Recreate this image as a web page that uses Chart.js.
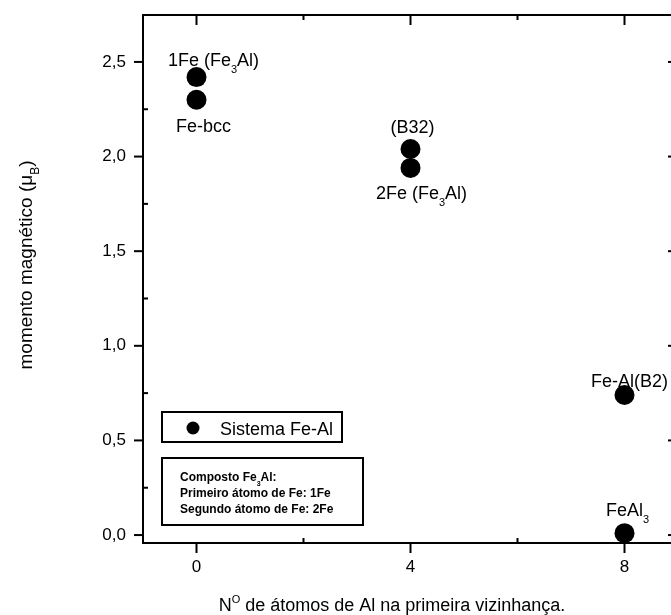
<!DOCTYPE html>
<html>
<head>
<meta charset="utf-8">
<script src="https://cdn.jsdelivr.net/npm/chart.js@4.4.1/dist/chart.umd.min.js"></script>
<style>
  html, body { margin: 0; padding: 0; background: #fff; overflow: hidden; }
  #wrap { width: 671px; height: 615px; overflow: hidden; }
</style>
</head>
<body>
<div id="wrap"><canvas id="chart" width="700" height="615"></canvas></div>
<script>
// ---------- DATA ----------
const xTicks = [0, 4, 8];
const xMinorTicks = [2, 6];
const yTicks = [0, 0.5, 1.0, 1.5, 2.0, 2.5];
const yMinorTicks = [0.25, 0.75, 1.25, 1.75, 2.25];

// number of Al first neighbours / magnetic moment (uB)
const alNeighbours = [0, 0, 4, 4, 8, 8];
const magMoment = [2.42, 2.30, 2.04, 1.94, 0.74, 0.01];
// '_' marks a subscript char, '^' a superscript char
const pointNames = ['1Fe (Fe_3Al)', 'Fe-bcc', '(B32)', '2Fe (Fe_3Al)', 'Fe-Al(B2)', 'FeAl_3'];

const seriesName = 'Sistema Fe-Al';
const noteLines = ['Composto Fe_3Al:', 'Primeiro átomo de Fe: 1Fe', 'Segundo átomo de Fe: 2Fe'];
const xTitle = 'N^O de átomos de Al na primeira vizinhança.';
const yTitle = 'momento magnético (μ_B)';

// ---------- STYLE ----------
const FONT = '"Liberation Sans", Arial, sans-serif';
// label offset from its point: [dx, baseline dy]
const labelPlacement = [[17, -11], [7, 32], [2, -16], [11, 31], [5, -8], [3, -17]];

// ---------- RICH TEXT ----------
function parseRich(str) {
  const parts = [];
  for (let i = 0; i < str.length; i++) {
    const c = str[i];
    if ((c === '_' || c === '^') && i + 1 < str.length) {
      parts.push({ t: str[i + 1], k: c === '_' ? 'sub' : 'sup' });
      i++;
    } else {
      const last = parts[parts.length - 1];
      if (last && last.k === 'n') last.t += c;
      else parts.push({ t: c, k: 'n' });
    }
  }
  return parts;
}

function partFont(p, size, weight) {
  const s = p.k === 'n' ? size : Math.round(size * 0.62);
  return weight + ' ' + s + 'px ' + FONT;
}

function richWidth(ctx, str, size, weight) {
  let w = 0;
  parseRich(str).forEach(p => {
    ctx.font = partFont(p, size, weight);
    w += ctx.measureText(p.t).width;
  });
  return w;
}

function drawRich(ctx, str, x, y, size, align, weight) {
  weight = weight || 'normal';
  const w = richWidth(ctx, str, size, weight);
  let cx = align === 'center' ? x - w / 2 : (align === 'right' ? x - w : x);
  ctx.textAlign = 'left';
  ctx.textBaseline = 'alphabetic';
  parseRich(str).forEach(p => {
    ctx.font = partFont(p, size, weight);
    let dy = 0;
    if (p.k === 'sub') dy = size * 0.38;
    if (p.k === 'sup') dy = -size * 0.42;
    ctx.fillText(p.t, cx, y + dy);
    cx += ctx.measureText(p.t).width;
  });
}

// ---------- DECORATION PLUGIN ----------
const framePlugin = {
  id: 'frame',
  beforeDraw(chart) {
    const ctx = chart.ctx;
    ctx.save();
    ctx.fillStyle = '#fff';
    ctx.fillRect(0, 0, chart.width, chart.height);
    ctx.restore();
  },
  beforeDatasetsDraw(chart) {
    const { ctx, chartArea: a, scales: { x, y } } = chart;
    ctx.save();
    ctx.strokeStyle = '#000';
    ctx.lineWidth = 2;
    ctx.strokeRect(a.left, a.top, a.right - a.left, a.bottom - a.top);

    const line = (x1, y1, x2, y2) => {
      ctx.beginPath(); ctx.moveTo(x1, y1); ctx.lineTo(x2, y2); ctx.stroke();
    };
    xTicks.forEach(v => {
      const px = x.getPixelForValue(v);
      line(px, a.bottom, px, a.bottom + 10);
      line(px, a.top, px, a.top + 10);
    });
    xMinorTicks.forEach(v => {
      const px = x.getPixelForValue(v);
      line(px, a.bottom, px, a.bottom - 5);
      line(px, a.top, px, a.top + 5);
    });
    yTicks.forEach(v => {
      const py = y.getPixelForValue(v);
      line(a.left - 9, py, a.left, py);
      line(a.right, py, a.right - 10, py);
    });
    yMinorTicks.forEach(v => {
      const py = y.getPixelForValue(v);
      line(a.left, py, a.left + 5, py);
    });
    ctx.restore();
  },
  afterDraw(chart) {
    const { ctx, scales: { x, y } } = chart;
    ctx.save();
    ctx.fillStyle = '#000';
    ctx.strokeStyle = '#000';

    // point labels
    pointNames.forEach((name, i) => {
      const px = x.getPixelForValue(alNeighbours[i]) + labelPlacement[i][0];
      const py = y.getPixelForValue(magMoment[i]) + labelPlacement[i][1];
      drawRich(ctx, name, px, py, 18, 'center');
    });

    // series key
    ctx.lineWidth = 2;
    ctx.strokeRect(162, 412, 180, 30);
    ctx.beginPath();
    ctx.arc(193, 428, 6.5, 0, Math.PI * 2);
    ctx.fill();
    drawRich(ctx, seriesName, 220, 435, 18, 'left');

    // note box
    ctx.strokeRect(162, 458, 201, 67);
    noteLines.forEach((t, i) => drawRich(ctx, t, 180, 481 + i * 16, 12, 'left', 'bold'));

    // axis titles
    drawRich(ctx, xTitle, 392, 611, 18, 'center');
    ctx.translate(32, 265);
    ctx.rotate(-Math.PI / 2);
    drawRich(ctx, yTitle, 0, 0, 19, 'center');
    ctx.restore();
  }
};

// ---------- CHART ----------
const ctx = document.getElementById('chart').getContext('2d');
new Chart(ctx, {
  type: 'scatter',
  data: {
    datasets: [{
      label: seriesName,
      data: alNeighbours.map((v, i) => ({ x: v, y: magMoment[i] })),
      pointRadius: 10,
      pointHoverRadius: 10,
      backgroundColor: '#000',
      borderWidth: 0,
      clip: false
    }]
  },
  options: {
    responsive: false,
    devicePixelRatio: 1,
    animation: false,
    events: [],
    layout: { padding: { top: 15, right: 22, left: 0, bottom: 0 } },
    plugins: { legend: { display: false }, tooltip: { enabled: false } },
    scales: {
      x: {
        type: 'linear',
        min: -1,
        max: 9,
        grid: { display: false },
        border: { display: false },
        afterBuildTicks: s => { s.ticks = xTicks.map(v => ({ value: v })); },
        afterFit: s => { s.height = 72; s.paddingLeft = 0; s.paddingRight = 0; },
        ticks: {
          autoSkip: false,
          maxRotation: 0,
          color: '#000',
          padding: 6,
          font: { family: FONT, size: 17 },
          callback: v => String(v)
        }
      },
      y: {
        type: 'linear',
        min: -0.042,
        max: 2.748,
        grid: { display: false },
        border: { display: false },
        afterBuildTicks: s => { s.ticks = yTicks.map(v => ({ value: v })); },
        afterFit: s => { s.width = 143; s.paddingTop = 0; s.paddingBottom = 0; },
        ticks: {
          autoSkip: false,
          color: '#000',
          padding: 9,
          font: { family: FONT, size: 17 },
          callback: v => v.toFixed(1).replace('.', ',')
        }
      }
    }
  },
  plugins: [framePlugin]
});
</script>
</body>
</html>
